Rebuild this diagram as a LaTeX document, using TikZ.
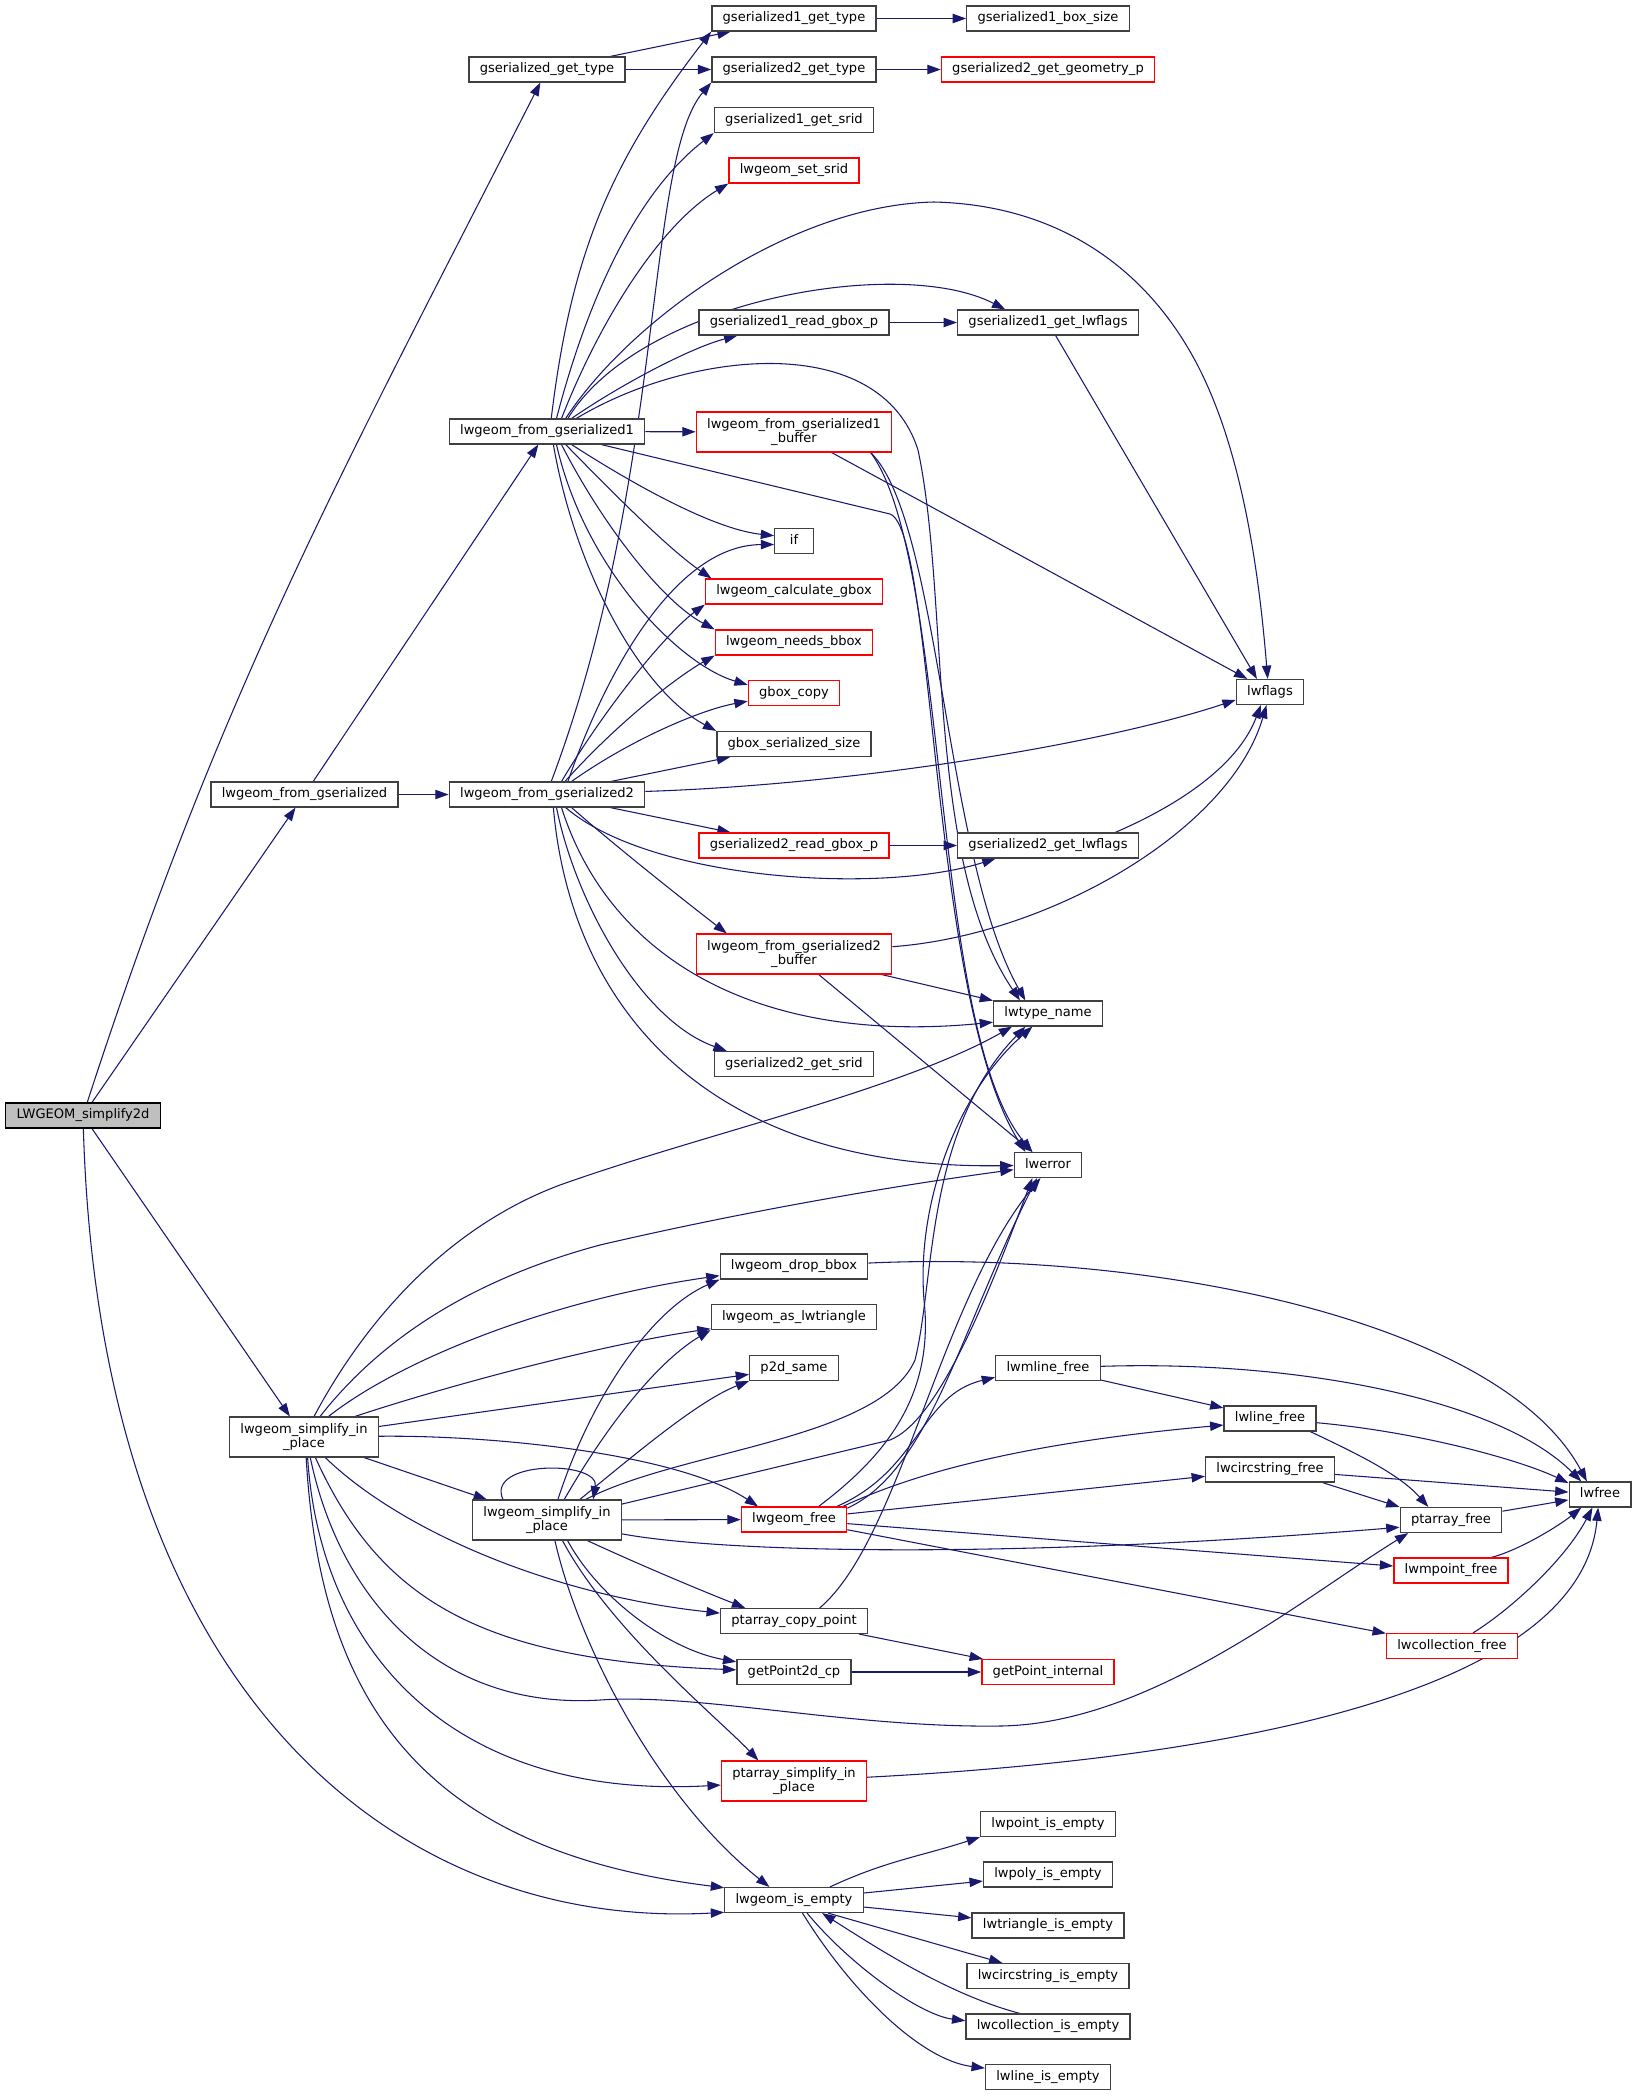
\documentclass[tikz,border=0pt]{standalone}
\usepackage{fontspec}
\setmainfont{DejaVu Sans}
\usepackage{tikz}
\usetikzlibrary{positioning,arrows.meta,backgrounds}

\definecolor{callblue}{HTML}{191970}
\definecolor{boxgrey}{HTML}{404040}
\definecolor{rootgrey}{HTML}{BFBFBF}

\tikzset{
  fn/.style={rectangle,draw=boxgrey,fill=white,line width=1pt,inner xsep=8.1pt,inner ysep=0pt,
    minimum height=18.6pt,minimum width=28.8pt,text height=7.4pt,text depth=2.2pt,
    font=\fontsize{9.8}{10.3}\selectfont},
  fnred/.style={fn,draw=red},
  fnroot/.style={fn,draw=black,fill=rootgrey},
  twoline/.style={align=center,text height=,text depth=,minimum height=29.8pt},
  call/.style={color=callblue,line width=0.8pt,-{Triangle[length=10pt,width=7pt]}}
}

\begin{document}
\begin{tikzpicture}[x=0.75pt,y=-0.75pt,node distance=190.5pt,on grid]
\useasboundingbox (0,0) rectangle (1632,2096);
\node[fnroot] (simplify2d) at (83,1115.5) {LWGEOM\_simplify2d};
\node[fn] (gsgettype) at (547,69.5) {gserialized\_get\_type};
\node[fn] (gs1gettype) at (794,18.5) {gserialized1\_get\_type};
\node[fn] (gs1boxsize) [right=of gs1gettype] {gserialized1\_box\_size};
\node[fn] (gs2gettype) at (794,69.5) {gserialized2\_get\_type};
\node[fnred] (gs2geomp) [right=of gs2gettype] {gserialized2\_get\_geometry\_p};
\node[fn] (gs1getsrid) at (794,120) {gserialized1\_get\_srid};
\node[fnred] (setsrid) at (794,170.5) {lwgeom\_set\_srid};
\node[fn] (gs1readgbox) at (794,322.5) {gserialized1\_read\_gbox\_p};
\node[fn] (gs1lwflags) [right=of gs1readgbox] {gserialized1\_get\_lwflags};
\node[fn] (fromgs1) at (547,431.5) {lwgeom\_from\_gserialized1};
\node[fnred,twoline] (fromgs1buf) at (794,432) {lwgeom\_from\_gserialized1\\\_buffer};
\node[fn] (ifcall) at (794,541) {if};
\node[fnred] (calcgbox) at (794,591.5) {lwgeom\_calculate\_gbox};
\node[fnred] (needsbbox) at (794,642.5) {lwgeom\_needs\_bbox};
\node[fnred] (gboxcopy) at (794,693) {gbox\_copy};
\node[fn] (gboxsize) at (794,744) {gbox\_serialized\_size};
\node[fn] (lwflags) at (1270,692) {lwflags};
\node[fn] (fromgs) at (304.5,794.5) {lwgeom\_from\_gserialized};
\node[fn] (fromgs2) at (547,794.5) {lwgeom\_from\_gserialized2};
\node[fnred] (gs2readgbox) at (794,845.5) {gserialized2\_read\_gbox\_p};
\node[fn] (gs2lwflags) [right=of gs2readgbox] {gserialized2\_get\_lwflags};
\node[fnred,twoline] (fromgs2buf) at (794,954) {lwgeom\_from\_gserialized2\\\_buffer};
\node[fn] (typename) at (1048,1013.5) {lwtype\_name};
\node[fn] (gs2getsrid) at (794,1064) {gserialized2\_get\_srid};
\node[fn] (lwerror) at (1048,1165) {lwerror};
\node[fn] (dropbbox) at (794,1266.5) {lwgeom\_drop\_bbox};
\node[fn] (aslwtri) at (794,1317) {lwgeom\_as\_lwtriangle};
\node[fn] (ptsame) at (794,1368) {p2d\_same};
\node[fn] (mlinefree) at (1048,1368) {lwmline\_free};
\node[fn] (linefree) at (1270,1418.5) {lwline\_free};
\node[fn,twoline] (simplA) at (304,1437) {lwgeom\_simplify\_in\\\_place};
\node[fn] (circfree) at (1270,1469.5) {lwcircstring\_free};
\node[fn] (lwfree) at (1600,1494.5) {lwfree};
\node[fn,twoline] (simplB) at (547,1520) {lwgeom\_simplify\_in\\\_place};
\node[fnred] (geomfree) at (794,1519.5) {lwgeom\_free};
\node[fn] (pafree) at (1451,1520) {ptarray\_free};
\node[fnred] (mpointfree) at (1451,1570.5) {lwmpoint\_free};
\node[fn] (copypoint) at (794,1621) {ptarray\_copy\_point};
\node[fnred] (collfree) at (1452,1646) {lwcollection\_free};
\node[fn] (getpt2d) at (794,1672) {getPoint2d\_cp};
\node[fnred] (getptint) [right=of getpt2d] {getPoint\_internal};
\node[fnred,twoline] (pasimplify) at (794,1781) {ptarray\_simplify\_in\\\_place};
\node[fn] (pointempty) at (1048,1824) {lwpoint\_is\_empty};
\node[fn] (polyempty) at (1048,1874.5) {lwpoly\_is\_empty};
\node[fn] (geomempty) at (794,1900) {lwgeom\_is\_empty};
\node[fn] (triempty) at (1048,1925.5) {lwtriangle\_is\_empty};
\node[fn] (circempty) at (1048,1976) {lwcircstring\_is\_empty};
\node[fn] (collempty) at (1048,2026.5) {lwcollection\_is\_empty};
\node[fn] (lineempty) at (1048,2077) {lwline\_is\_empty};

\begin{scope}[on background layer]
\path[call]
  (simplify2d) edge (fromgs)
  (simplify2d) edge (simplA)
  (gsgettype) edge (gs1gettype)
  (gsgettype) edge (gs2gettype)
  (gs1gettype) edge (gs1boxsize)
  (gs2gettype) edge (gs2geomp)
  (fromgs) edge (fromgs1)
  (fromgs) edge (fromgs2)
  (fromgs1) edge (fromgs1buf)
  (gs1readgbox) edge (gs1lwflags)
  (gs1lwflags) edge (lwflags.135)
  (fromgs1buf) edge (lwflags.150)
  (fromgs2) edge (gboxsize)
  (fromgs2) edge (gs2readgbox)
  (gs2readgbox) edge (gs2lwflags)
  (fromgs2buf) edge (typename)
  (fromgs2buf) edge (lwerror)
  (simplA) edge (ptsame)
  (simplA) edge (simplB)
  (simplB) edge (geomfree)
  (geomfree) edge (circfree)
  (geomfree) edge (mpointfree)
  (geomfree) edge (collfree)
  (mlinefree) edge (linefree)
  (circfree) edge (lwfree)
  (circfree.-14) edge (pafree.north west)
  (pafree) edge (lwfree)
  (copypoint) edge (getptint)
  (getpt2d) edge (getptint)
  (geomempty) edge (polyempty)
  (geomempty) edge (triempty)
  (geomempty.-21) edge (circempty);
\draw[call] (simplify2d) to[out=72,in=-117] (gsgettype);
\draw[call] (simplify2d) .. controls (100,1700) and (400,1930) .. (geomempty.-170);
\draw[call] (fromgs1.72) .. controls (571,255) and (610,162) .. (gs1gettype.south west);
\draw[call] (fromgs1.54) .. controls (590,290) and (640,190) .. (gs1getsrid.south west);
\draw[call] (fromgs1.42) .. controls (600,320) and (660,225) .. (setsrid.south west);
\draw[call] (fromgs1.35) .. controls (630,320) and (790,205) .. (934,202) .. controls (1060,205) and (1150,270) .. (1200,370) .. controls (1240,450) and (1258,560) .. (lwflags.100);
\draw[call] (fromgs1.32) .. controls (640,300) and (900,255) .. (gs1lwflags.163);
\draw[call] (fromgs1.28) .. controls (620,385) and (690,348) .. (gs1readgbox.-167);
\draw[call] (fromgs1.24) .. controls (690,350) and (880,330) .. (918,450) .. controls (950,600) and (925,860) .. (typename.155);
\draw[call] (fromgs1) -- (890,514) .. controls (935,530) and (930,1000) .. (lwerror.150);
\draw[call] (fromgs1.-28) .. controls (650,495) and (720,530) .. (ifcall.165);
\draw[call] (fromgs1.-35) .. controls (620,500) and (670,550) .. (calcgbox.171);
\draw[call] (fromgs1.-42) .. controls (600,520) and (660,600) .. (needsbbox.north west);
\draw[call] (fromgs1.-54) .. controls (585,570) and (680,665) .. (gboxcopy.170);
\draw[call] (fromgs1.-64) .. controls (575,570) and (640,690) .. (gboxsize.north west);
\draw[call] (fromgs1buf.-15) .. controls (940,520) and (945,860) .. (typename.150);
\draw[call] (fromgs1buf.-15) .. controls (950,560) and (930,1030) .. (lwerror.140);
\draw[call] (fromgs2.72) .. controls (665,480) and (645,160) .. (gs2gettype.south west);
\draw[call] (fromgs2.32) .. controls (610,660) and (680,545) .. (ifcall.190);
\draw[call] (fromgs2.42) .. controls (610,700) and (670,630) .. (calcgbox.south west);
\draw[call] (fromgs2.36) .. controls (620,720) and (680,675) .. (needsbbox.south west);
\draw[call] (fromgs2.28) .. controls (630,740) and (700,710) .. (gboxcopy.-170);
\draw[call] (fromgs2) .. controls (850,785) and (1100,745) .. (lwflags.-167);
\draw[call] (fromgs2.-35) .. controls (650,880) and (880,895) .. (gs2lwflags.-166);
\draw[call] (fromgs2.-28) .. controls (620,850) and (690,905) .. (fromgs2buf.163);
\draw[call] (fromgs2.-42) .. controls (610,960) and (760,1045) .. (typename.-171);
\draw[call] (fromgs2.-54) .. controls (575,900) and (640,1020) .. (gs2getsrid.169);
\draw[call] (fromgs2.-64) .. controls (570,1000) and (700,1170) .. (lwerror);
\draw[call] (gs2lwflags.11) .. controls (1190,800) and (1240,760) .. (lwflags.-125);
\draw[call] (fromgs2buf) .. controls (1050,935) and (1230,830) .. (lwflags.-105);
\draw[call] (simplA.64) .. controls (360,1330) and (440,1230) .. (560,1185) .. controls (700,1135) and (900,1090) .. (typename.-160);
\draw[call] (simplA.52) .. controls (380,1340) and (470,1280) .. (600,1245) .. controls (750,1210) and (900,1185) .. (lwerror);
\draw[call] (simplA.40) .. controls (400,1360) and (550,1300) .. (dropbbox.-173);
\draw[call] (simplA.22) .. controls (450,1385) and (600,1345) .. (aslwtri.-172);
\draw[call] (simplA) .. controls (500,1435) and (680,1455) .. (geomfree.160);
\draw[call] (simplA.-44) .. controls (400,1530) and (550,1595) .. (copypoint);
\draw[call] (simplA.-61) .. controls (380,1600) and (480,1660) .. (getpt2d);
\draw[call] (simplA.-73) .. controls (340,1600) and (440,1710) .. (600,1700) .. controls (700,1693) and (850,1728) .. (1000,1726) .. controls (1150,1724) and (1300,1600) .. (pafree.-163);
\draw[call] (simplA.-80) .. controls (320,1650) and (450,1800) .. (pasimplify);
\draw[call] (simplA.-84) .. controls (320,1700) and (420,1850) .. (geomempty.170);
\draw[call] (simplB.155) .. controls (485,1460) and (600,1460) .. (simplB.24);
\draw[call] (simplB.62) .. controls (590,1400) and (650,1310) .. (dropbbox.south west);
\draw[call] (simplB.50) .. controls (610,1420) and (660,1360) .. (aslwtri.south west);
\draw[call] (simplB.32) .. controls (640,1450) and (700,1400) .. (ptsame.south west);
\draw[call] (simplB.28) .. controls (680,1450) and (880,1440) .. (915,1360) .. controls (935,1280) and (925,1130) .. (typename.-150);
\draw[call] (simplB.12) -- (890,1440) .. controls (940,1420) and (990,1290) .. (lwerror.-140);
\draw[call] (simplB) .. controls (720,1552) and (1000,1560) .. (pafree.-172);
\draw[call] (simplB.-27) .. controls (640,1565) and (700,1590) .. (copypoint.165);
\draw[call] (simplB.-45) .. controls (600,1600) and (670,1650) .. (getpt2d.170);
\draw[call] (simplB.-53) .. controls (610,1630) and (720,1720) .. (pasimplify.150);
\draw[call] (simplB.-69) .. controls (580,1650) and (660,1800) .. (geomempty.152);
\draw[call] (geomfree.17) .. controls (920,1470) and (920,1395) .. (mlinefree.-170);
\draw[call] (geomfree.15) .. controls (900,1480) and (1000,1445) .. (linefree.-172);
\draw[call] (geomfree.28) .. controls (880,1460) and (935,1400) .. (924,1300) .. controls (916,1200) and (960,1090) .. (typename.-140);
\draw[call] (geomfree.12) .. controls (930,1470) and (960,1330) .. (lwerror.-130);
\draw[call] (copypoint.27) .. controls (900,1540) and (940,1300) .. (lwerror.-120);
\draw[call] (dropbbox) .. controls (1150,1250) and (1500,1320) .. (lwfree.135);
\draw[call] (mlinefree) .. controls (1300,1360) and (1500,1400) .. (lwfree.145);
\draw[call] (linefree) .. controls (1420,1432) and (1520,1460) .. (lwfree.160);
\draw[call] (linefree.-18) .. controls (1360,1455) and (1400,1475) .. (pafree.150);
\draw[call] (mpointfree.18) .. controls (1520,1550) and (1560,1525) .. (lwfree.-145);
\draw[call] (collfree.32) .. controls (1510,1610) and (1565,1560) .. (lwfree.-120);
\draw[call] (pasimplify) .. controls (1200,1760) and (1580,1700) .. (lwfree.-98);
\draw[call] (geomempty.20) to[out=25,in=-162] (pointempty.south west);
\draw[call] (geomempty.-45) .. controls (850,1965) and (920,2015) .. (collempty.176);
\draw[call] (collempty.155) .. controls (950,1995) and (880,1950) .. (geomempty.-25);
\draw[call] (geomempty.-57) .. controls (850,1990) and (920,2060) .. (lineempty.172);
\end{scope}
\end{tikzpicture}
\end{document}
